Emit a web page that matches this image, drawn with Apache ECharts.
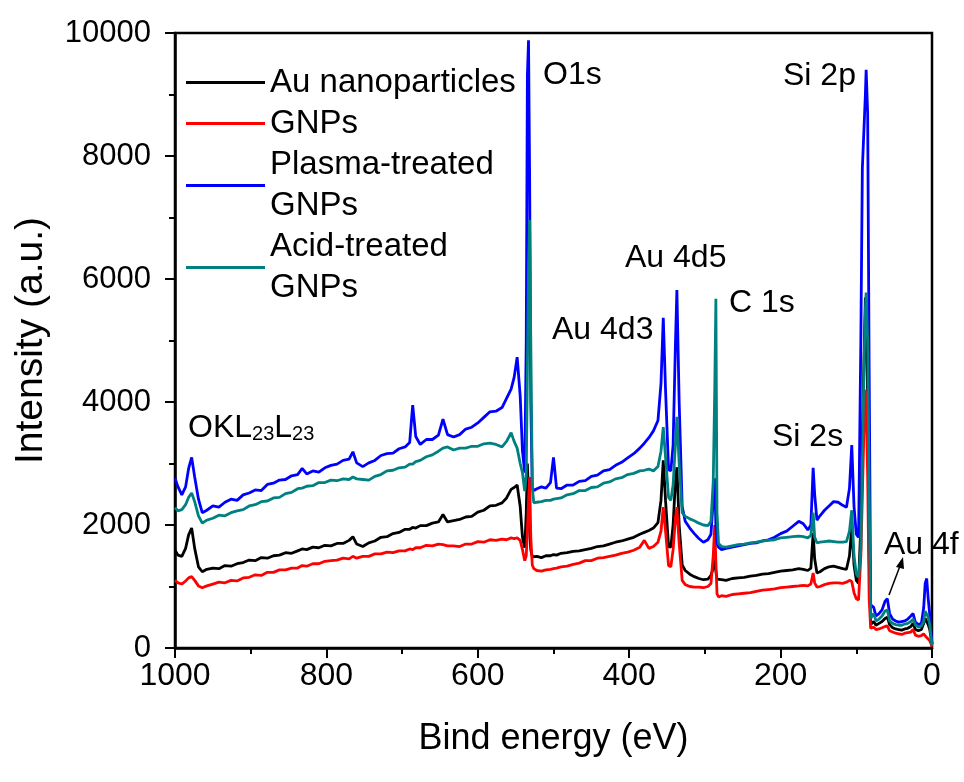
<!DOCTYPE html>
<html><head><meta charset="utf-8">
<script src="https://cdn.jsdelivr.net/npm/echarts@6/dist/echarts.min.js"></script>
<style>html,body{margin:0;padding:0;background:#fff}#c{width:964px;height:782px}</style>
</head><body><div id="c"></div>
<script>
// Binding energy (eV) sample positions
const energy = [
 1000, 996, 991, 986, 982, 978, 974, 969, 964, 958,
 950, 942, 934, 926, 918, 910, 902, 894, 886, 878,
 870, 862, 854, 846, 838, 832, 826, 818, 810, 802,
 794, 786, 778, 770, 765, 760, 752, 744, 736, 728,
 720, 712, 704, 696, 690, 686, 682, 676, 668, 660,
 652, 646, 640, 632, 624, 616, 608, 600, 592, 584,
 576, 568, 562, 556, 552, 548, 544, 541, 538, 536,
 534.5, 533, 531.5, 530, 528, 526, 522, 516, 510, 504,
 500, 496, 490, 482, 474, 466, 458, 450, 442, 434,
 426, 418, 410, 402, 394, 386, 380, 374, 368, 362,
 358, 355, 352, 348, 345, 342, 339, 337, 334, 330,
 326, 320, 314, 308, 302, 296, 292, 289, 287, 285.5,
 284, 282, 278, 272, 264, 256, 248, 240, 232, 224,
 216, 208, 200, 192, 184, 176, 170, 164, 160, 157,
 155, 152, 148, 142, 136, 130, 124, 118, 113, 109,
 106, 103, 100, 97, 94, 92, 90, 88, 87, 85,
 83, 81, 77, 74, 70, 66, 62, 59, 56, 52,
 48, 44, 40, 36, 32, 28, 25, 22, 18, 14,
 11, 9, 7, 5, 3, 1, 0
];
// Au nanoparticles (black)
const auNano = [
 1590, 1510, 1490, 1620, 1840, 1950, 1620, 1320, 1240, 1280,
 1300, 1290, 1340, 1330, 1370, 1390, 1430, 1420, 1470, 1460,
 1500, 1510, 1550, 1540, 1580, 1610, 1600, 1640, 1630, 1670,
 1660, 1700, 1700, 1750, 1810, 1690, 1650, 1710, 1740, 1800,
 1810, 1860, 1880, 1930, 1930, 1960, 1950, 1990, 1990, 2030,
 2050, 2170, 2050, 2070, 2090, 2130, 2140, 2210, 2240, 2310,
 2320, 2360, 2440, 2580, 2610, 2650, 2300, 1800, 1630, 2200,
 3000, 2500, 1900, 1600, 1480, 1470, 1490, 1470, 1500, 1500,
 1520, 1510, 1540, 1550, 1570, 1580, 1600, 1620, 1650, 1660,
 1690, 1720, 1740, 1770, 1800, 1850, 1880, 1910, 1950, 2040,
 2400, 3050, 2400, 1650, 1640, 2000, 2700, 2940, 2000, 1350,
 1260, 1200, 1160, 1130, 1110, 1120, 1180, 1300, 1430, 1250,
 1120, 1100, 1110, 1100, 1130, 1140, 1150, 1170, 1180, 1200,
 1210, 1230, 1250, 1260, 1270, 1290, 1280, 1260, 1300, 1870,
 1450, 1220, 1240, 1290, 1320, 1330, 1310, 1290, 1280, 1500,
 1970, 1350, 1100, 1050, 2000, 3500, 4600, 5700, 5400, 4000,
 1500, 380, 430, 370, 400, 430, 480, 500, 380, 330,
 310, 300, 290, 310, 320, 350, 400, 300, 280, 300,
 400, 480, 460, 380, 300, 150, 60
];
// GNPs (red)
const gnps = [
 1100, 1060, 1040, 1090, 1140, 1160, 1100, 1010, 980, 1010,
 1040, 1070, 1060, 1100, 1090, 1140, 1150, 1190, 1180, 1230,
 1230, 1270, 1270, 1300, 1300, 1340, 1330, 1370, 1370, 1410,
 1420, 1430, 1460, 1450, 1490, 1460, 1490, 1490, 1530, 1530,
 1560, 1550, 1580, 1580, 1610, 1600, 1630, 1630, 1670, 1660,
 1690, 1680, 1660, 1660, 1650, 1690, 1690, 1730, 1720, 1760,
 1750, 1770, 1760, 1790, 1780, 1790, 1750, 1600, 1420, 1500,
 1900, 2400, 2780, 1800, 1350, 1290, 1260, 1250, 1270, 1280,
 1290, 1300, 1320, 1330, 1360, 1380, 1420, 1420, 1460, 1470,
 1490, 1510, 1540, 1560, 1590, 1640, 1750, 1620, 1650, 1720,
 1900, 2290, 1900, 1340, 1320, 1600, 2100, 2290, 1700, 1100,
 1030, 1000, 990, 990, 980, 1000, 1050, 1500, 2000, 1400,
 880, 830, 850, 840, 870, 880, 890, 900, 920, 940,
 950, 960, 980, 990, 1000, 1010, 1020, 1010, 1040, 1220,
 1060, 990, 1000, 1030, 1050, 1060, 1060, 1050, 1070, 1100,
 1080, 900, 800, 780, 1500, 2500, 3500, 4200, 4000, 2800,
 800, 320, 340, 300, 310, 330, 350, 360, 280, 260,
 240, 230, 220, 240, 250, 260, 300, 210, 190, 200,
 230, 200, 170, 150, 120, 60, 20
];
// Plasma-treated GNPs (blue)
const plasmaGnps = [
 2760, 2620, 2490, 2620, 2920, 3100, 2780, 2420, 2200, 2240,
 2310, 2290, 2370, 2420, 2400, 2490, 2520, 2570, 2560, 2660,
 2680, 2730, 2740, 2800, 2820, 2920, 2830, 2880, 2860, 2930,
 2970, 2990, 3050, 3070, 3190, 3010, 2950, 3010, 3050, 3130,
 3160, 3170, 3240, 3270, 3340, 3950, 3440, 3310, 3390, 3390,
 3460, 3720, 3470, 3430, 3470, 3560, 3590, 3660, 3750, 3840,
 3850, 3910, 4060, 4210, 4400, 4730, 4100, 3200, 2850, 5000,
 9300, 9880, 7600, 4000, 2600, 2560, 2590, 2620, 2600, 2690,
 3100, 2600, 2590, 2650, 2650, 2710, 2720, 2790, 2810, 2880,
 2900, 2970, 3020, 3090, 3160, 3250, 3330, 3420, 3530, 3700,
 4300, 5370, 4200, 2900, 2880, 3300, 4900, 5820, 4000, 2300,
 2060, 1950, 1860, 1780, 1720, 1760, 1850, 2400, 2760, 2000,
 1700, 1640, 1600, 1620, 1640, 1660, 1680, 1700, 1710, 1740,
 1760, 1800, 1860, 1900, 1980, 2060, 2020, 1920, 2000, 2930,
 2500, 2080, 2150, 2240, 2310, 2380, 2370, 2320, 2290, 2600,
 3300, 2300, 1850, 1800, 5000, 7800, 8400, 9000, 9400, 8700,
 4500, 700, 660, 520, 560, 620, 760, 800, 560, 470,
 440, 420, 430, 440, 470, 520, 560, 420, 380, 400,
 650, 1050, 1130, 800, 550, 200, 80
];
// Acid-treated GNPs (teal)
const acidGnps = [
 2280, 2230, 2250, 2330, 2450, 2520, 2380, 2150, 2030, 2080,
 2110, 2160, 2150, 2200, 2230, 2250, 2310, 2330, 2380, 2390,
 2440, 2450, 2510, 2530, 2590, 2600, 2630, 2640, 2690, 2690,
 2730, 2720, 2750, 2740, 2780, 2750, 2740, 2730, 2790, 2820,
 2880, 2890, 2930, 2940, 2990, 2990, 3030, 3050, 3110, 3140,
 3200, 3250, 3270, 3220, 3250, 3250, 3280, 3280, 3320, 3330,
 3310, 3270, 3360, 3500, 3360, 3250, 3000, 2850, 2550, 2800,
 4500, 6200, 6960, 5000, 2600, 2360, 2370, 2380, 2400, 2400,
 2420, 2430, 2440, 2490, 2510, 2560, 2560, 2610, 2620, 2680,
 2700, 2750, 2770, 2820, 2840, 2880, 2890, 2910, 2880, 2950,
 3200, 3590, 3100, 2450, 2400, 2650, 3300, 3760, 3000, 2200,
 2140, 2100, 2070, 2030, 2000, 1990, 2060, 2700, 4200, 5680,
 2200, 1700, 1650, 1640, 1660, 1680, 1690, 1710, 1720, 1740,
 1750, 1760, 1790, 1800, 1810, 1820, 1810, 1790, 1830, 2200,
 1800, 1710, 1720, 1730, 1740, 1730, 1720, 1720, 1730, 1900,
 2240, 1500, 1200, 1150, 1600, 3000, 4500, 5500, 5780, 5000,
 2500, 480, 560, 440, 470, 520, 600, 620, 440, 400,
 380, 370, 370, 390, 400, 430, 470, 380, 340, 360,
 430, 600, 620, 500, 380, 150, 50
];
const seriesNames = ['Au nanoparticles', 'GNPs', 'Plasma-treated\nGNPs', 'Acid-treated\nGNPs'];
const seriesColors = ['#000000', '#ff0000', '#0000ff', '#008080'];
const seriesValues = [auNano, gnps, plasmaGnps, acidGnps];

const SANS = '"Liberation Sans", Arial, sans-serif';

const chart = echarts.init(document.getElementById('c'), null, {renderer: 'canvas'});

const legendBase = {
  orient: 'vertical', left: 186, itemGap: 0, itemWidth: 79, itemHeight: 3,
  icon: 'rect', padding: 0, selectedMode: false,
  textStyle: {fontFamily: SANS, fontSize: 33, color: '#000', lineHeight: 41}
};

const annot = (text, x, y) => ({
  type: 'text', x: x, y: y,
  style: {text: text, x: 0, y: 0, fontFamily: SANS, fontSize: 32, fill: '#000', verticalAlign: 'middle', align: 'left'}
});

const option = {
  animation: false,
  backgroundColor: '#ffffff',
  grid: {left: 175, right: 32, top: 33, bottom: 134, show: true, borderColor: '#000', borderWidth: 2.5,
         backgroundColor: 'transparent', containLabel: false, outerBoundsMode: 'none'},
  xAxis: {
    type: 'value', min: 0, max: 1000, interval: 200, inverse: true,
    name: 'Bind energy (eV)', nameLocation: 'middle', nameGap: 73,
    nameTextStyle: {fontFamily: SANS, fontSize: 36, color: '#000'},
    axisLine: {show: true, onZero: false, lineStyle: {color: '#000', width: 2.5}},
    axisTick: {show: true, inside: false, length: 10, lineStyle: {color: '#000', width: 2}},
    minorTick: {show: true, splitNumber: 2, length: 6, lineStyle: {color: '#000', width: 2}},
    axisLabel: {fontFamily: SANS, fontSize: 32, color: '#000', margin: 12, formatter: v => String(v)},
    splitLine: {show: false}, minorSplitLine: {show: false}
  },
  yAxis: {
    type: 'value', min: 0, max: 10000, interval: 2000,
    name: 'Intensity (a.u.)', nameLocation: 'middle', nameGap: 124,
    nameTextStyle: {fontFamily: SANS, fontSize: 39, color: '#000'},
    axisLine: {show: true, onZero: false, lineStyle: {color: '#000', width: 2.5}},
    axisTick: {show: true, inside: false, length: 10, lineStyle: {color: '#000', width: 2}},
    minorTick: {show: true, splitNumber: 2, length: 6, lineStyle: {color: '#000', width: 2}},
    axisLabel: {fontFamily: SANS, fontSize: 31, color: '#000', margin: 24, formatter: v => String(v)},
    splitLine: {show: false}, minorSplitLine: {show: false}
  },
  legend: [
    Object.assign({}, legendBase, {top: 62, data: [seriesNames[0], seriesNames[1]]}),
    Object.assign({}, legendBase, {top: 124, data: [seriesNames[2]],
      textStyle: Object.assign({}, legendBase.textStyle, {padding: [41, 0, 0, 0]})}),
    Object.assign({}, legendBase, {top: 206, data: [seriesNames[3]],
      textStyle: Object.assign({}, legendBase.textStyle, {padding: [41, 0, 0, 0]})})
  ],
  series: seriesNames.map((name, k) => ({
    name: name, type: 'line', symbol: 'none', showSymbol: false, clip: true,
    color: seriesColors[k],
    lineStyle: {color: seriesColors[k], width: 2.8},
    data: energy.map((e, i) => [e, seriesValues[k][i]])
  })),
  graphic: [
    annot('O1s', 543, 75),
    annot('Si 2p', 783, 76),
    annot('Au 4d5', 625, 258),
    annot('Au 4d3', 552, 330),
    annot('C 1s', 729, 303),
    annot('Si 2s', 772, 437),
    annot('Au 4f', 884, 545),
    {type: 'text', x: 188, y: 428, style: {
      text: 'OKL{s|23}L{s|23}', x: 0, y: 0, fontFamily: SANS, fontSize: 32, fill: '#000', verticalAlign: 'middle',
      rich: {s: {fontFamily: SANS, fontSize: 20, verticalAlign: 'bottom', fill: '#000'}}
    }},
    {type: 'line', shape: {x1: 889, y1: 595, x2: 900, y2: 566}, style: {stroke: '#000', lineWidth: 1.5}},
    {type: 'polygon', shape: {points: [[903, 557], [896, 567], [904, 569]]}, style: {fill: '#000'}}
  ]
};
chart.setOption(option);
</script></body></html>
